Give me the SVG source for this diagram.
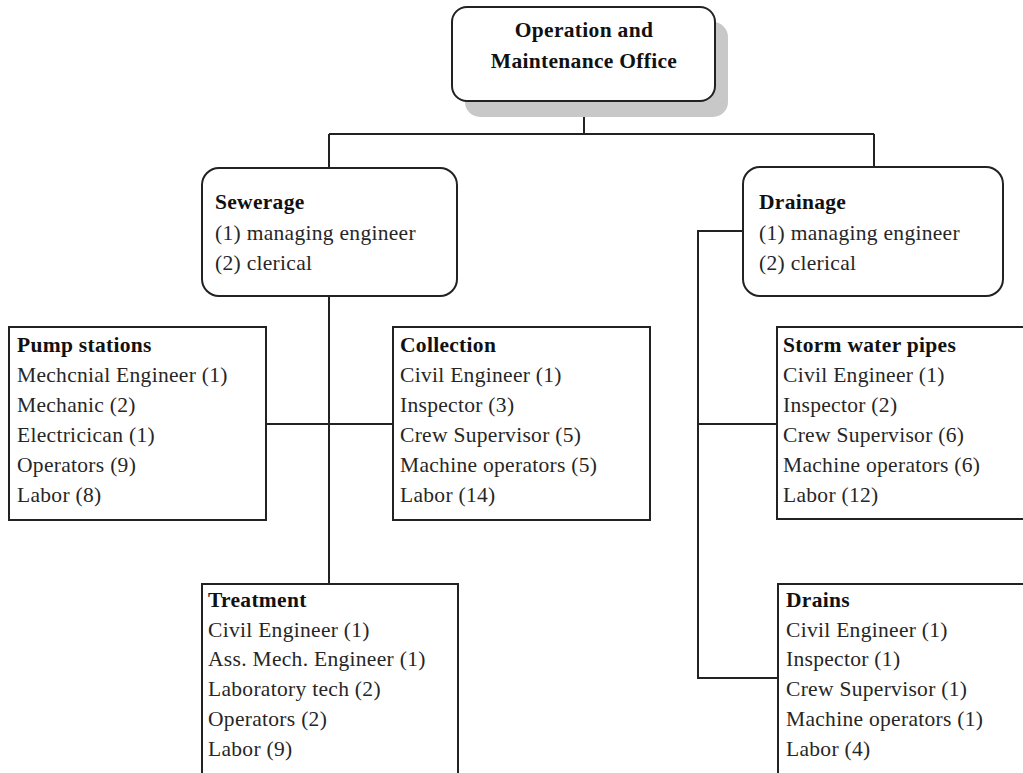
<svg xmlns="http://www.w3.org/2000/svg" width="1023" height="773" viewBox="0 0 1023 773">
<style>
text { font-family: "Liberation Serif", "Times New Roman", serif; font-size: 21.5px; fill: #262626; letter-spacing: 0.3px; }
.h { font-weight: bold; fill: #111; }
.box { fill: #fff; stroke: #222; stroke-width: 2; }
.conn { fill: none; stroke: #222; stroke-width: 2; }
</style>
<rect width="1023" height="773" fill="#fff"/>
<g id="connectors">
<path class="conn" d="M584 101 V134 M329 134 H874 M329 134 V168 M874 134 V167"/>
<path class="conn" d="M329 296 V584 M266 424 H393"/>
<path class="conn" d="M743 231 H698 V678 H778 M698 424 H777"/>
</g>
<g id="office">
<rect x="465" y="22" width="263" height="95" rx="15" fill="#c8c8c8"/>
<rect class="box" x="452" y="7" width="263" height="94" rx="15"/>
<text class="h" x="584" y="37" text-anchor="middle">Operation and</text>
<text class="h" x="584" y="68" text-anchor="middle">Maintenance Office</text>
</g>
<g id="sewerage">
<rect class="box" x="202" y="168" width="255" height="128" rx="17"/>
<text class="h" x="215" y="209">Sewerage</text>
<text x="215" y="240">(1) managing engineer</text>
<text x="215" y="270">(2) clerical</text>
</g>
<g id="drainage">
<rect class="box" x="743" y="167" width="260" height="129" rx="17"/>
<text class="h" x="759" y="209">Drainage</text>
<text x="759" y="240">(1) managing engineer</text>
<text x="759" y="270">(2) clerical</text>
</g>
<g id="pump">
<rect class="box" x="9" y="327" width="257" height="193"/>
<text class="h" x="17" y="352">Pump stations</text>
<text x="17" y="382">Mechcnial Engineer (1)</text>
<text x="17" y="412">Mechanic (2)</text>
<text x="17" y="442">Electricican (1)</text>
<text x="17" y="472">Operators (9)</text>
<text x="17" y="502">Labor (8)</text>
</g>
<g id="collection">
<rect class="box" x="393" y="327" width="257" height="193"/>
<text class="h" x="400" y="352">Collection</text>
<text x="400" y="382">Civil Engineer (1)</text>
<text x="400" y="412">Inspector (3)</text>
<text x="400" y="442">Crew Supervisor (5)</text>
<text x="400" y="472">Machine operators (5)</text>
<text x="400" y="502">Labor (14)</text>
</g>
<g id="storm">
<rect class="box" x="777" y="327" width="260" height="192"/>
<text class="h" x="783" y="352">Storm water pipes</text>
<text x="783" y="382">Civil Engineer (1)</text>
<text x="783" y="412">Inspector (2)</text>
<text x="783" y="442">Crew Supervisor (6)</text>
<text x="783" y="472">Machine operators (6)</text>
<text x="783" y="502">Labor (12)</text>
</g>
<g id="treatment">
<rect class="box" x="202" y="584" width="256" height="200"/>
<text class="h" x="208" y="607">Treatment</text>
<text x="208" y="637">Civil Engineer (1)</text>
<text x="208" y="666">Ass. Mech. Engineer (1)</text>
<text x="208" y="696">Laboratory tech (2)</text>
<text x="208" y="726">Operators (2)</text>
<text x="208" y="756">Labor (9)</text>
</g>
<g id="drains">
<rect class="box" x="778" y="584" width="260" height="200"/>
<text class="h" x="786" y="607">Drains</text>
<text x="786" y="637">Civil Engineer (1)</text>
<text x="786" y="666">Inspector (1)</text>
<text x="786" y="696">Crew Supervisor (1)</text>
<text x="786" y="726">Machine operators (1)</text>
<text x="786" y="756">Labor (4)</text>
</g>
</svg>
